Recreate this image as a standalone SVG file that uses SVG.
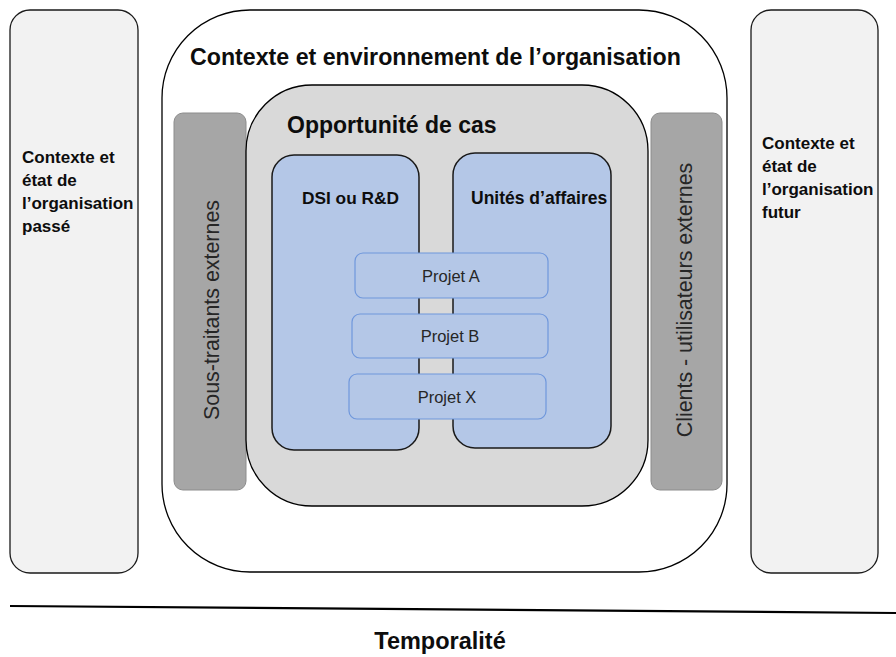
<svg xmlns="http://www.w3.org/2000/svg" width="896" height="657" viewBox="0 0 896 657">
<style>
text{font-family:"Liberation Sans",Arial,sans-serif;fill:#0d0d0d}
.b{font-weight:bold}
.side{fill:#f2f2f2;stroke:#1a1a1a;stroke-width:1.3}
.bar{fill:#a6a6a6;stroke:#8c8c8c;stroke-width:1}
.blue{fill:#b4c7e7;stroke:#1a1a1a;stroke-width:1.5}
.proj{fill:#b4c7e7;stroke:#6f97dc;stroke-width:1.2}
.pt{font-size:16.5px;fill:#262626;text-anchor:middle}
.vt{font-size:21.4px;fill:#262626;text-anchor:middle}
.st{font-size:17px}
</style>
<g id="passe">
<rect class="side" x="10" y="10" width="128" height="563" rx="20"/>
<text class="b st"><tspan x="22" y="163">Contexte et</tspan><tspan x="22" y="186">état de</tspan><tspan x="22" y="209">l’organisation</tspan><tspan x="22" y="232">passé</tspan></text>
</g>
<g id="futur">
<rect class="side" x="751" y="10" width="127" height="563" rx="20"/>
<text class="b st"><tspan x="762" y="149">Contexte et</tspan><tspan x="762" y="172">état de</tspan><tspan x="762" y="195">l’organisation</tspan><tspan x="762" y="218">futur</tspan></text>
</g>
<g id="contexte">
<rect x="162" y="10" width="565" height="562" rx="88" fill="#fff" stroke="#000" stroke-width="1.3"/>
<text class="b" x="190" y="65" font-size="23.2">Contexte et environnement de l’organisation</text>
</g>
<g id="sous-traitants">
<rect class="bar" x="174" y="113" width="72" height="377" rx="9"/>
<text class="vt" transform="translate(219,310) rotate(-90)">Sous-traitants externes</text>
</g>
<g id="clients">
<rect class="bar" x="651" y="113" width="71" height="377" rx="9"/>
<text class="vt" transform="translate(692,300) rotate(-90)">Clients - utilisateurs externes</text>
</g>
<g id="opportunite">
<rect x="246" y="85" width="402" height="421" rx="66" fill="#d9d9d9" stroke="#000" stroke-width="1.3"/>
<text class="b" x="287" y="133" font-size="23">Opportunité de cas</text>
</g>
<g id="dsi">
<rect class="blue" x="272" y="155" width="147" height="295" rx="22"/>
<text class="b" x="302" y="204" font-size="17.3">DSI ou R&amp;D</text>
</g>
<g id="unites">
<rect class="blue" x="453" y="153" width="158" height="295" rx="22"/>
<text class="b" x="471" y="204" font-size="17.5">Unités d’affaires</text>
</g>
<g id="projet-a">
<rect class="proj" x="355" y="253" width="193" height="45" rx="8"/>
<text class="pt" x="451" y="282">Projet A</text>
</g>
<g id="projet-b">
<rect class="proj" x="352" y="314" width="196" height="44" rx="8"/>
<text class="pt" x="450" y="342">Projet B</text>
</g>
<g id="projet-x">
<rect class="proj" x="349" y="374" width="197" height="45" rx="8"/>
<text class="pt" x="447" y="403">Projet X</text>
</g>
<g id="connectors">
<line x1="10" y1="606" x2="896" y2="613" stroke="#000" stroke-width="2.2"/>
</g>
<g id="temporalite">
<text class="b" x="440" y="649" font-size="23.5" text-anchor="middle">Temporalité</text>
</g>
</svg>
